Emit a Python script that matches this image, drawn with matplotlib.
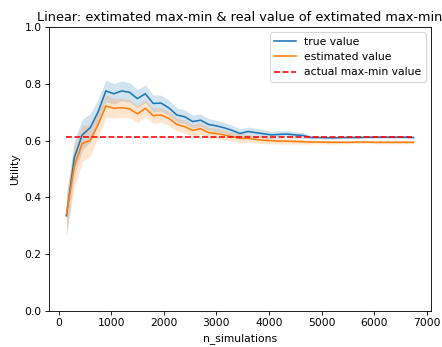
import numpy as np
import matplotlib
matplotlib.use("Agg")
import matplotlib.pyplot as plt

DPI = 77

n_simulations = list(range(150, 6751, 150))

true_value = [0.335, 0.54, 0.62, 0.645, 0.70, 0.775, 0.765, 0.775, 0.77, 0.748,
              0.765, 0.731, 0.732, 0.715, 0.69, 0.684, 0.667, 0.672, 0.657, 0.652,
              0.645, 0.636, 0.625, 0.632, 0.628, 0.624, 0.620, 0.622, 0.623, 0.620,
              0.618, 0.611, 0.611, 0.610, 0.610, 0.611, 0.611, 0.611, 0.612, 0.612,
              0.612, 0.612, 0.612, 0.612, 0.611]
true_err = [0.07, 0.06, 0.055, 0.05, 0.045, 0.038, 0.036, 0.035, 0.034, 0.032,
            0.031, 0.03, 0.028, 0.027, 0.025, 0.024, 0.023, 0.022, 0.021, 0.02,
            0.019, 0.018, 0.017, 0.016, 0.015, 0.014, 0.013, 0.013, 0.012, 0.011,
            0.01, 0.006, 0.005, 0.005, 0.005, 0.004, 0.004, 0.004, 0.004, 0.004,
            0.004, 0.004, 0.004, 0.004, 0.004]

estimated_value = [0.34, 0.51, 0.59, 0.60, 0.655, 0.722, 0.714, 0.716, 0.712, 0.694,
                   0.714, 0.688, 0.690, 0.678, 0.657, 0.649, 0.636, 0.642, 0.628, 0.625,
                   0.620, 0.614, 0.608, 0.608, 0.604, 0.601, 0.600, 0.598, 0.598, 0.597,
                   0.596, 0.595, 0.595, 0.594, 0.594, 0.594, 0.594, 0.595, 0.595, 0.594,
                   0.594, 0.594, 0.594, 0.594, 0.594]
estimated_err = [0.07, 0.075, 0.065, 0.055, 0.045, 0.04, 0.035, 0.033, 0.032, 0.03,
                 0.029, 0.027, 0.026, 0.025, 0.023, 0.022, 0.021, 0.02, 0.019, 0.018,
                 0.017, 0.016, 0.015, 0.014, 0.013, 0.012, 0.011, 0.01, 0.01, 0.009,
                 0.008, 0.007, 0.006, 0.006, 0.006, 0.005, 0.005, 0.005, 0.005, 0.005,
                 0.005, 0.005, 0.005, 0.005, 0.005]

actual_max_min = 0.611


def main():
    x = np.array(n_simulations)
    tv = np.array(true_value); te = np.array(true_err)
    ev = np.array(estimated_value); ee = np.array(estimated_err)

    fig = plt.figure(figsize=(442 / DPI, 347 / DPI), dpi=DPI)
    ax = fig.add_subplot(111)
    fig.subplots_adjust(left=0.111, right=0.975, bottom=0.104, top=0.922)

    ax.plot(x, tv, color='tab:blue', label='true value')
    ax.fill_between(x, tv - te, tv + te, color='tab:blue', alpha=0.2, linewidth=0)
    ax.plot(x, ev, color='tab:orange', label='estimated value')
    ax.fill_between(x, ev - ee, ev + ee, color='tab:orange', alpha=0.2, linewidth=0)
    ax.plot(x, [actual_max_min] * len(x), 'r--', label='actual max-min value')

    ax.set_ylim(0.0, 1.0)
    ax.set_xticks(range(0, 7001, 1000))
    ax.set_ylabel('Utility')
    ax.set_xlabel('n_simulations')
    ax.set_title('Linear: extimated max-min & real value of extimated max-min')
    ax.legend(loc='upper right')
    fig.savefig('out.png', dpi=DPI)


if __name__ == "__main__":
    main()
